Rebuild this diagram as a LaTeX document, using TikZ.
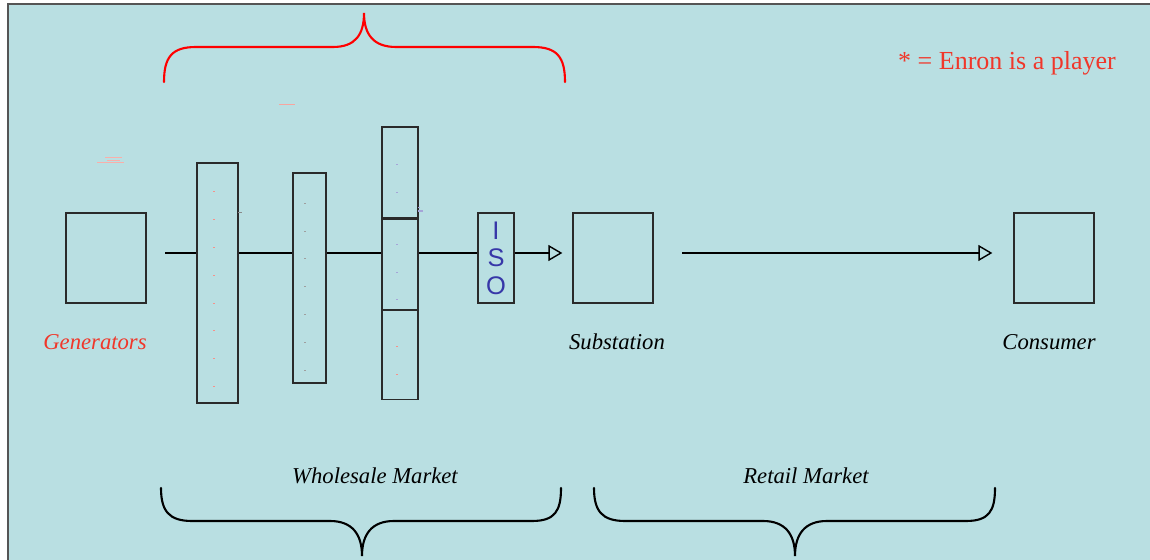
\documentclass[tikz,border=0pt]{standalone}
\usepackage{fontspec}
\setmainfont{Liberation Serif}
\newfontfamily\isofont{Liberation Sans}
\usetikzlibrary{arrows.meta,positioning}
\definecolor{panel}{HTML}{B9DFE2}
\definecolor{edge}{HTML}{2A2A2A}
\definecolor{enron}{HTML}{F0372A}
\definecolor{isoblue}{HTML}{3737A8}

\begin{document}
\begin{tikzpicture}[x=0.02cm,y=-0.02cm,
  unit/.style={draw=edge,line width=0.75pt,fill=panel,inner sep=0pt},
  flow/.style={line width=1.5pt,-{Triangle[open,length=0.28cm,width=0.32cm,line width=0.8pt]}},
  brace/.style={line width=1.2pt,line cap=round},
  lbl/.style={font=\fontsize{12.9}{15}\selectfont\itshape}]
  \useasboundingbox (0,0) rectangle (1150,560);
  % slide
  \fill[panel] (8,4) rectangle (1150,560);
  \draw[edge!80,line width=0.8pt] (8,560) -- (8,4) -- (1150,4);
  % end points
  \node[unit,minimum width=1.6cm,minimum height=1.8cm] (gen) at (106,258) {};
  \node[unit,minimum width=1.6cm,minimum height=1.8cm] (sub) at (613,258) {};
  \node[unit,minimum width=1.6cm,minimum height=1.8cm] (cons) at (1054,258) {};
  % power flow
  \coordinate (flowstart) at (165,253);
  \coordinate (retailstart) at (682,253);
  \draw[flow,shorten >=0.2cm] (flowstart) -- (flowstart -| sub.west);
  \draw[flow,shorten >=0.42cm] (retailstart) -- (retailstart -| cons.west);
  % wholesale players
  \node[unit,minimum width=0.82cm,minimum height=4.8cm] (bar1) at (217.5,283) {};
  \node[unit,minimum width=0.66cm,minimum height=4.2cm] (bar2) at (309.5,278) {};
  \node[unit,minimum width=0.72cm,minimum height=1.82cm] (bar3a) at (400,172.5) {};
  \node[unit,minimum width=0.72cm,minimum height=1.8cm,below=0pt of bar3a] (bar3b) {};
  \node[unit,minimum width=0.72cm,minimum height=1.78cm,below=0pt of bar3b] (bar3c) {};
  \node[unit,minimum width=0.72cm,minimum height=1.8cm,text=isoblue,align=center,
    font=\fontsize{14.5}{15.6}\isofont] (iso) at (496,258) {I\\S\\O};
  % tiny marks
  \foreach \y in {191,219,247,275,303,330,358,386}
    \fill[enron!55] (213,\y) rectangle +(2,1.5);
  \foreach \y in {203,231,258,286,314,342,370}
    \fill[edge!45] (304,\y) rectangle +(2,1.5);
  \foreach \y in {164,192,244,272,299}
    \fill[isoblue!45] (396,\y) rectangle +(2,1.5);
  \foreach \y in {346,374}
    \fill[enron!55] (396,\y) rectangle +(2,1.5);
  \fill[edge!55] (238,212) rectangle +(4,1.2);
  \fill[isoblue!45] (418,207) rectangle +(2,1.2);
  \fill[isoblue!45] (418,210.5) rectangle +(5,1.2);
  \fill[enron!45] (279,104.5) rectangle +(16,1);
  \fill[enron!40] (105,157) rectangle +(17,1);
  \fill[enron!40] (107,160) rectangle +(13,1);
  \fill[enron!40] (97,162.5) rectangle +(27,1);
  % labels
  \node[lbl,text=enron] (gentext) at (95,342) {Generators};
  \node[lbl] (subtext) at (617,342) {Substation};
  \node[lbl] (constext) at (1049,342) {Consumer};
  \node[lbl] (whole) at (375,476) {Wholesale Market};
  \node[lbl] (retail) at (806,476) {Retail Market};
  \node[text=enron,font=\fontsize{14.8}{17}\selectfont] (key) at (1007,63) {* = Enron is a player};
  % braces
  \draw[brace,red] (164,82) .. controls (164,57) and (172,47) .. (196,47) -- (333,47)
    .. controls (355,47) and (364,35) .. (364,13) .. controls (364,35) and (374,47) .. (396,47)
    -- (533,47) .. controls (557,47) and (565,57) .. (565,82);
  \draw[brace] (161,488) .. controls (161,511) and (169,521) .. (192,521) -- (330,521)
    .. controls (352,521) and (362,534) .. (362,556) .. controls (362,534) and (372,521) .. (394,521)
    -- (532,521) .. controls (555,521) and (561,511) .. (561,488);
  \draw[brace] (594,488) .. controls (594,511) and (602,521) .. (625,521) -- (763,521)
    .. controls (785,521) and (795,534) .. (795,556) .. controls (795,534) and (805,521) .. (827,521)
    -- (966,521) .. controls (989,521) and (995,511) .. (995,488);
\end{tikzpicture}
\end{document}
